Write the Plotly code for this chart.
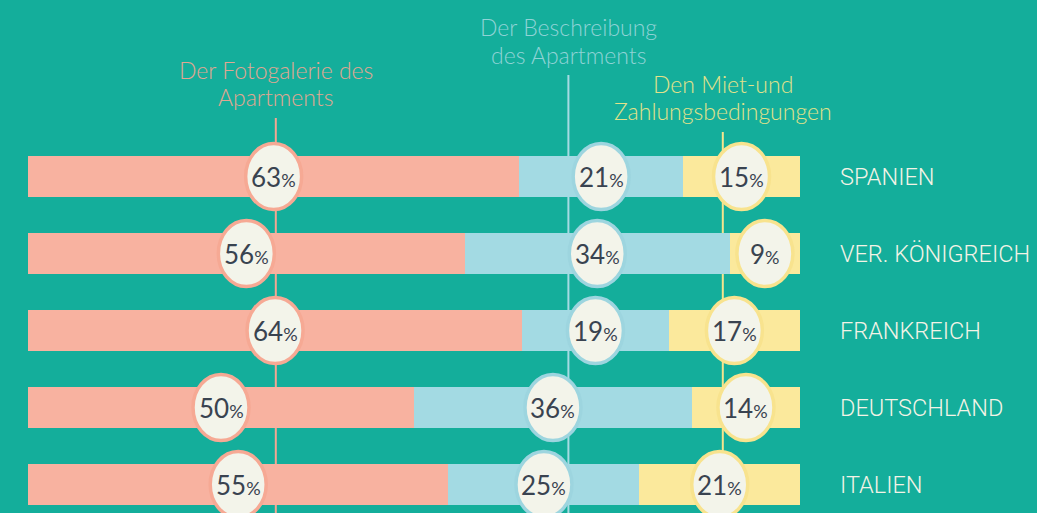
import plotly.graph_objects as go

countries = ["SPANIEN", "VER. KÖNIGREICH", "FRANKREICH", "DEUTSCHLAND", "ITALIEN"]
foto = [63, 56, 64, 50, 55]
beschreibung = [21, 34, 19, 36, 25]
bedingungen = [15, 9, 17, 14, 21]
series_names = [["Der Fotogalerie des", "Apartments"],
                ["Der Beschreibung", "des Apartments"],
                ["Den Miet-und", "Zahlungsbedingungen"]]

BG = "#14ae9b"
BAR_COLORS = ["#f8b2a0", "#a3dae3", "#fbe99c"]
RING_COLORS = ["#f6a994", "#9dd5df", "#f8e38e"]
LINE_COLORS = ["#f4a792", "#a6dbe3", "#f5e48d"]
HEAD_COLORS = ["#e2a792", "#8fd3d6", "#e3e28a"]
CREAM = "#f3f4ea"
DARK = "#394350"

W, H = 1037, 513
rows = list(range(len(countries)))
series = [foto, beschreibung, bedingungen]
totals = [sum(s[i] for s in series) for i in rows]
widths = [[s[i] / totals[i] * 100 for i in rows] for s in series]

fig = go.Figure()
for k in range(3):
    fig.add_trace(go.Bar(
        y=rows, x=widths[k], orientation="h",
        marker=dict(color=BAR_COLORS[k], line=dict(width=0)),
        width=0.53, hoverinfo="skip", showlegend=False,
    ))

guide_x = [32.1, 70.0, 90.0]
guide_top_px = [118, 75, 132]
head_px = [[70, 97], [27, 55], [84, 111]]

shapes = []
annotations = []
for k in range(3):
    shapes.append(dict(type="line", xref="x", yref="paper",
                       x0=guide_x[k], x1=guide_x[k], y0=0, y1=1 - guide_top_px[k] / H,
                       line=dict(color=LINE_COLORS[k], width=2), layer="below"))
    for j, line in enumerate(series_names[k]):
        annotations.append(dict(xref="x", yref="paper", x=guide_x[k], y=1 - head_px[k][j] / H,
                                text=line, showarrow=False,
                                xanchor="center", yanchor="middle",
                                font=dict(family="Lato", size=23, color=HEAD_COLORS[k], weight=300)))

for i in rows:
    cum = 0
    for k in range(3):
        w = widths[k][i]
        cx = cum + w / 2
        cum += w
        shapes.append(dict(type="circle", xref="x", yref="y",
                           xsizemode="pixel", ysizemode="pixel",
                           xanchor=cx, yanchor=i,
                           x0=-28, x1=28, y0=-33, y1=33,
                           fillcolor=CREAM,
                           line=dict(color=RING_COLORS[k], width=3.5),
                           layer="above"))
        v = series[k][i]
        annotations.append(dict(xref="x", yref="y", x=cx, y=i,
                                text=f"{v}<span style='font-size:18px'>%</span>",
                                showarrow=False, xanchor="center", yanchor="middle",
                                font=dict(family="Lato", size=26, color=DARK, weight=400)))
    annotations.append(dict(xref="paper", yref="y", x=838 / W, y=i,
                            text=countries[i], showarrow=False,
                            xanchor="left", yanchor="middle",
                            font=dict(family="Roboto, DejaVu Sans Condensed, sans-serif",
                                      size=23.5, color="#f3f3e6", weight=300)))

fig.update_layout(
    width=W, height=H,
    margin=dict(l=0, r=0, t=0, b=0),
    paper_bgcolor=BG, plot_bgcolor=BG,
    barmode="stack", bargap=0,
    xaxis=dict(domain=[28 / W, 800 / W], range=[0, 100], visible=False, fixedrange=True),
    yaxis=dict(domain=[0, 1], range=[(H - 176.5) / 77, -176.5 / 77], visible=False, fixedrange=True),
    shapes=shapes,
    annotations=annotations,
    showlegend=False,
)

fig.write_html("out.html", config={"displayModeBar": False},
               post_script="document.body.style.margin='0px';document.body.style.overflow='hidden';document.body.style.background='" + BG + "';")
